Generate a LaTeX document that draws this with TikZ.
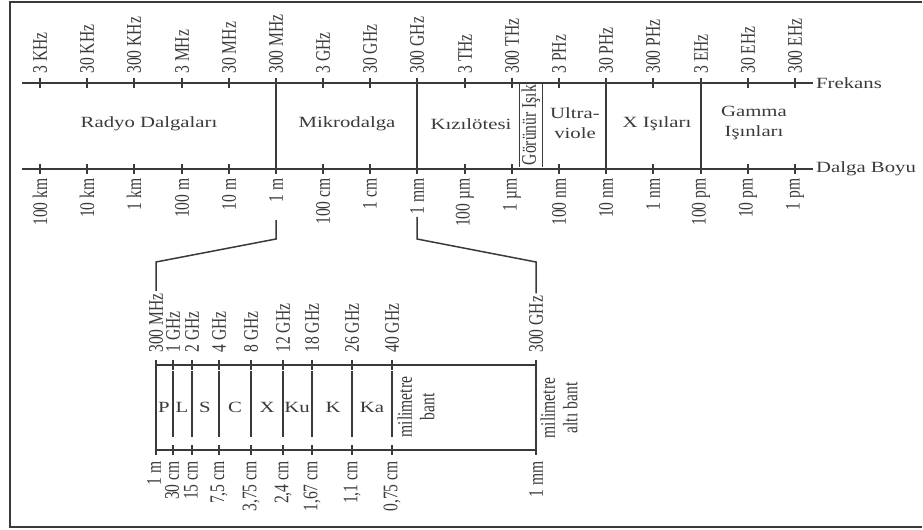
\documentclass[tikz,border=0pt]{standalone}
\usepackage{fontspec}
\setmainfont{Liberation Serif}
\definecolor{ink}{HTML}{3A3A3A}
\begin{document}
\begin{tikzpicture}[x=0.5pt,y=-0.5pt]
        \tikzset{txt/.style = {text=ink, font=\fontsize{7.8}{10}\selectfont, xscale=1.33, inner sep=1pt}}
        \tikzset{up/.style = {txt, rotate=90, anchor=west}}
        \tikzset{down/.style = {txt, rotate=90, anchor=east}}
        \tikzset{side/.style = {txt, rotate=90, align=center, font=\fontsize{7.8}{8.4}\selectfont}}
        \tikzset{axis/.style = {draw=ink, line width=0.75pt}}
        \tikzset{tk/.style = {draw=ink, line width=1pt}}
        \tikzset{div/.style = {draw=ink, line width=0.9pt}}
        \useasboundingbox (0,0) rectangle (923,530);
        \draw[ink, line width=1pt] (922,2) -- (10,2) -- (10,527) -- (922,527);
        \coordinate (fa) at (22,83);
        \coordinate (fb) at (813,83);
        \coordinate (da) at (22,169);
        \coordinate (db) at (813,169);
        \draw[axis] (fa) -- (fb);
        \draw[axis] (da) -- (db);
        \node[txt, anchor=west] (frk) at (fb) {Frekans};
        \node[txt, anchor=west] (dlg) at (db) {Dalga Boyu};
        \node[up] (f1) at (40,76) {3 KHz};
        \node[up] (f2) at (87,76) {30 KHz};
        \node[up] (f3) at (134,76) {300 KHz};
        \node[up] (f4) at (182,76) {3 MHz};
        \node[up] (f5) at (229,76) {30 MHz};
        \node[up] (f6) at (276,76) {300 MHz};
        \node[up] (f7) at (323,76) {3 GHz};
        \node[up] (f8) at (370,76) {30 GHz};
        \node[up] (f9) at (417,76) {300 GHz};
        \node[up] (f10) at (465,76) {3 THz};
        \node[up] (f11) at (512,76) {300 THz};
        \node[up] (f12) at (559,76) {3 PHz};
        \node[up] (f13) at (606,76) {30 PHz};
        \node[up] (f14) at (653,76) {300 PHz};
        \node[up] (f15) at (701,76) {3 EHz};
        \node[up] (f16) at (748,76) {30 EHz};
        \node[up] (f17) at (795,76) {300 EHz};
        \node[down] (d1) at (40,176) {100 km};
        \node[down] (d2) at (87,176) {10 km};
        \node[down] (d3) at (134,176) {1 km};
        \node[down] (d4) at (182,176) {100 m};
        \node[down] (d5) at (229,176) {10 m};
        \node[down] (d6) at (276,176) {1 m};
        \node[down] (d7) at (323,176) {100 cm};
        \node[down] (d8) at (370,176) {1 cm};
        \node[down] (d9) at (417,176) {1 mm};
        \node[down] (d10) at (465,176) {100 µm};
        \node[down] (d11) at (512,176) {1 µm};
        \node[down] (d12) at (559,176) {100 nm};
        \node[down] (d13) at (606,176) {10 nm};
        \node[down] (d14) at (653,176) {1 nm};
        \node[down] (d15) at (701,176) {100 pm};
        \node[down] (d16) at (748,176) {10 pm};
        \node[down] (d17) at (795,176) {1 pm};
        \draw[tk] (f1 |- fa) ++(0,-5) -- ++(0,10) (f2 |- fa) ++(0,-5) -- ++(0,10)
        (f3 |- fa) ++(0,-5) -- ++(0,10) (f4 |- fa) ++(0,-5) -- ++(0,10)
        (f5 |- fa) ++(0,-5) -- ++(0,10) (f6 |- fa) ++(0,-5) -- ++(0,10)
        (f7 |- fa) ++(0,-5) -- ++(0,10) (f8 |- fa) ++(0,-5) -- ++(0,10)
        (f9 |- fa) ++(0,-5) -- ++(0,10) (f10 |- fa) ++(0,-5) -- ++(0,10)
        (f11 |- fa) ++(0,-5) -- ++(0,10) (f12 |- fa) ++(0,-5) -- ++(0,10)
        (f13 |- fa) ++(0,-5) -- ++(0,10) (f14 |- fa) ++(0,-5) -- ++(0,10)
        (f15 |- fa) ++(0,-5) -- ++(0,10) (f16 |- fa) ++(0,-5) -- ++(0,10)
        (f17 |- fa) ++(0,-5) -- ++(0,10);
        \draw[tk] (d1 |- da) ++(0,-5) -- ++(0,10) (d2 |- da) ++(0,-5) -- ++(0,10)
        (d3 |- da) ++(0,-5) -- ++(0,10) (d4 |- da) ++(0,-5) -- ++(0,10)
        (d5 |- da) ++(0,-5) -- ++(0,10) (d6 |- da) ++(0,-5) -- ++(0,10)
        (d7 |- da) ++(0,-5) -- ++(0,10) (d8 |- da) ++(0,-5) -- ++(0,10)
        (d9 |- da) ++(0,-5) -- ++(0,10) (d10 |- da) ++(0,-5) -- ++(0,10)
        (d11 |- da) ++(0,-5) -- ++(0,10) (d12 |- da) ++(0,-5) -- ++(0,10)
        (d13 |- da) ++(0,-5) -- ++(0,10) (d14 |- da) ++(0,-5) -- ++(0,10)
        (d15 |- da) ++(0,-5) -- ++(0,10) (d16 |- da) ++(0,-5) -- ++(0,10)
        (d17 |- da) ++(0,-5) -- ++(0,10);
        \draw[div] (f6 |- fa) -- (d6 |- da) (f9 |- fa) -- (d9 |- da)
        (f13 |- fa) -- (d13 |- da) (f15 |- fa) -- (d15 |- da);
        \node[txt] (rad) at (149,124) {Radyo Dalgaları};
        \node[txt] (mik) at (347,124) {Mikrodalga};
        \node[txt] (kiz) at (471,124) {Kızılötesi};
        \node[txt, rotate=90, inner sep=0.6pt] (vis) at (531,125) {Görünür Işık};
        \draw[ink, line width=0.7pt] (vis.north west) -- (vis.north east)
        (vis.south west) -- (vis.south east);
        \node[txt, align=center] (uv) at (575,123) {Ultra-\\viole};
        \node[txt] (xis) at (657,124) {X Işıları};
        \node[txt, align=center] (gam) at (754,123) {Gamma\\Işınları};
        \coordinate (ta) at (156,365);
        \coordinate (tb) at (536,365);
        \coordinate (ba) at (156,450);
        \coordinate (bb) at (536,450);
        \coordinate (ia) at (156,371);
        \coordinate (ib) at (156,437);
        \coordinate (la) at (276,220);
        \coordinate (lb) at (276,239);
        \coordinate (lc) at (156,262);
        \node[up] (g1) at (156,355) {300 MHz};
        \node[up] (g2) at (173,355) {1 GHz};
        \node[up] (g3) at (192,355) {2 GHz};
        \node[up] (g4) at (219,355) {4 GHz};
        \node[up] (g5) at (251,355) {8 GHz};
        \node[up] (g6) at (283,355) {12 GHz};
        \node[up] (g7) at (312,355) {18 GHz};
        \node[up] (g8) at (352,355) {26 GHz};
        \node[up] (g9) at (392,355) {40 GHz};
        \node[up] (g10) at (536,355) {300 GHz};
        \node[down] (h1) at (154,459) {1 m};
        \node[down] (h2) at (172,459) {30 cm};
        \node[down] (h3) at (191,459) {15 cm};
        \node[down] (h4) at (219,459) {7,5 cm};
        \node[down] (h5) at (251,459) {3,75 cm};
        \node[down] (h6) at (283,459) {2,4 cm};
        \node[down] (h7) at (312,459) {1,67 cm};
        \node[down] (h8) at (352,459) {1,1 cm};
        \node[down] (h9) at (392,459) {0,75 cm};
        \node[down] (h10) at (536,459) {1 mm};
        \draw[div] (ta) -- (tb) -- (bb) -- (ba) -- cycle;
        \draw[tk] (g1 |- ta) ++(0,-5) -- ++(0,10) (g2 |- ta) ++(0,-5) -- ++(0,10)
        (g3 |- ta) ++(0,-5) -- ++(0,10) (g4 |- ta) ++(0,-5) -- ++(0,10)
        (g5 |- ta) ++(0,-5) -- ++(0,10) (g6 |- ta) ++(0,-5) -- ++(0,10)
        (g7 |- ta) ++(0,-5) -- ++(0,10) (g8 |- ta) ++(0,-5) -- ++(0,10)
        (g9 |- ta) ++(0,-5) -- ++(0,10) (g10 |- ta) ++(0,-5) -- ++(0,10);
        \draw[tk] (g1 |- ba) ++(0,-5) -- ++(0,10) (g2 |- ba) ++(0,-5) -- ++(0,10)
        (g3 |- ba) ++(0,-5) -- ++(0,10) (g4 |- ba) ++(0,-5) -- ++(0,10)
        (g5 |- ba) ++(0,-5) -- ++(0,10) (g6 |- ba) ++(0,-5) -- ++(0,10)
        (g7 |- ba) ++(0,-5) -- ++(0,10) (g8 |- ba) ++(0,-5) -- ++(0,10)
        (g9 |- ba) ++(0,-5) -- ++(0,10) (g10 |- ba) ++(0,-5) -- ++(0,10);
        \draw[div] (g2 |- ia) -- (g2 |- ib) (g3 |- ia) -- (g3 |- ib)
        (g4 |- ia) -- (g4 |- ib) (g5 |- ia) -- (g5 |- ib)
        (g6 |- ia) -- (g6 |- ib) (g7 |- ia) -- (g7 |- ib)
        (g8 |- ia) -- (g8 |- ib) (g9 |- ia) -- (g9 |- ib);
        \node[txt] (bp) at (164,407) {P};
        \node[txt] (bl) at (182,407) {L};
        \node[txt] (bs) at (205,407) {S};
        \node[txt] (bc) at (235,407) {C};
        \node[txt] (bx) at (267,407) {X};
        \node[txt] (bku) at (297,407) {Ku};
        \node[txt] (bk) at (333,407) {K};
        \node[txt] (bka) at (372,407) {Ka};
        \node[side] (mmb) at (416,407) {milimetre\\bant};
        \node[side] (smb) at (559,408) {milimetre\\altı bant};
        \draw[axis] (d6 |- la) -- (d6 |- lb) -- (g1 |- lc) -- (g1.east);
        \draw[axis] (d9.west) -- (d9 |- lb) -- (g10 |- lc) -- (g10.east);
\end{tikzpicture}
\end{document}
